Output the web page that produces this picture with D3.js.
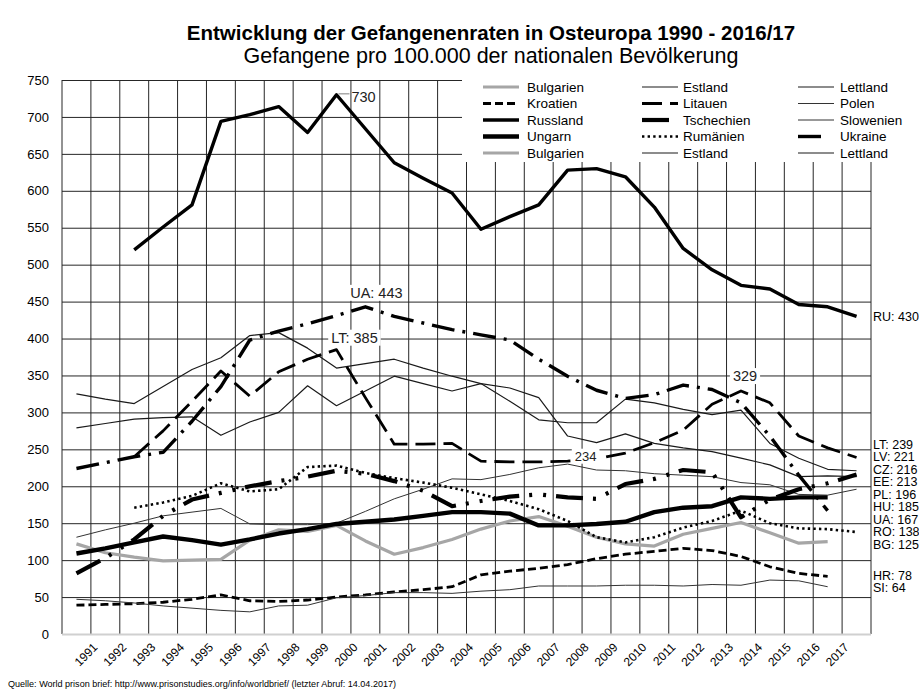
<!DOCTYPE html>
<html>
<head>
<meta charset="utf-8">
<script src="https://cdn.jsdelivr.net/npm/d3@7/dist/d3.min.js"></script>
<style>
  body { margin: 0; background: #fff; }
  text { font-family: "Liberation Sans", Arial, sans-serif; fill: #000; }
</style>
</head>
<body>
<svg width="919" height="693"></svg>
<script>
var years = [1990, 1991, 1992, 1993, 1994, 1995, 1996, 1997, 1998, 1999,
             2000, 2001, 2002, 2003, 2004, 2005, 2006, 2007, 2008, 2009,
             2010, 2011, 2012, 2013, 2014, 2015, 2016, 2017];
var yearLabels = [1991, 1992, 1993, 1994, 1995, 1996, 1997, 1998, 1999, 2000,
                  2001, 2002, 2003, 2004, 2005, 2006, 2007, 2008, 2009, 2010,
                  2011, 2012, 2013, 2014, 2015, 2016, 2017];
var yTicks = [0, 50, 100, 150, 200, 250, 300, 350, 400, 450, 500, 550, 600, 650, 700, 750];

// Gefangene pro 100.000, 1990..2017 (null = kein Wert)
var bulgarien  = [122, 110, 104, 99, 100, 101, 127, 141, 139, 147, 126, 108, 117, 128, 142, 153, 159, 146, 131, 122, 119, 135, 143, 151, 137, 123, 125, null];
var estland    = [279, 285, 291, 293, 294, 269, 287, 300, 336, 309, 329, 349, 339, 329, 339, 333, 320, 268, 259, 271, 258, 252, 247, 238, 229, 213, 214, 213];
var lettland   = [325, 318, 312, 335, 358, 374, 404, 408, 387, 360, 366, 372, 360, 349, 339, 315, 290, 286, 286, 318, 313, 304, 297, 303, 258, 238, 223, 221];
var kroatien   = [39, 40, 41, 43, 47, 53, 45, 44, 46, 50, 53, 57, 60, 64, 80, 85, 89, 94, 102, 108, 112, 116, 113, 105, 91, 82, 78, null];
var litauen    = [null, null, 240, 275, 315, 356, 322, 355, 372, 385, 320, 257, 257, 258, 234, 233, 233, 234, 237, 245, 259, 276, 311, 329, 313, 268, 252, 239];
var polen      = [131, 141, 150, 160, 165, 170, 149, 148, 148, 150, 166, 183, 196, 210, 209, 216, 225, 230, 222, 221, 217, 215, 213, 205, 202, 189, 188, 196];
var russland   = [null, null, 520, 551, 581, 694, 703, 714, 679, 730, 684, 638, 617, 597, 548, 565, 581, 628, 630, 619, 578, 522, 493, 472, 467, 446, 443, 430];
var tschechien = [82, 103, 128, 160, 182, 191, 200, 207, 213, 221, 217, 207, 194, 173, 180, 186, 189, 185, 183, 203, 210, 222, 219, 158, 182, 196, 204, 216];
var slowenien  = [47, 45, 42, 38, 35, 32, 30, 38, 39, 49, 52, 56, 56, 55, 58, 60, 65, 65, 65, 66, 66, 65, 67, 66, 73, 72, 64, null];
var ungarn     = [109, 116, 124, 132, 127, 121, 128, 136, 142, 149, 152, 155, 160, 165, 165, 163, 147, 147, 149, 152, 165, 171, 173, 185, 183, 185, 185, null];
var rumaenien  = [null, null, 171, 178, 187, 204, 193, 196, 226, 228, 218, 211, 205, 198, 189, 180, 169, 153, 131, 124, 131, 144, 153, 167, 150, 143, 142, 138];
var ukraine    = [224, 232, 240, 246, 288, 335, 398, 410, 420, 431, 443, 430, 421, 412, 405, 398, 372, 349, 330, 319, 324, 337, 331, 313, 268, 215, 167, null];

var series = [
  {name: "Bulgarien",  code: "BG", values: bulgarien,  color: "#a6a6a6", width: 3.2, dash: null},
  {name: "Estland",    code: "EE", values: estland,    color: "#1a1a1a", width: 1.2, dash: null},
  {name: "Lettland",   code: "LV", values: lettland,   color: "#1a1a1a", width: 1.2, dash: null},
  {name: "Kroatien",   code: "HR", values: kroatien,   color: "#000",    width: 2.8, dash: "8,4"},
  {name: "Litauen",    code: "LT", values: litauen,    color: "#000",    width: 2.8, dash: "20,8"},
  {name: "Polen",      code: "PL", values: polen,      color: "#333",    width: 1,   dash: null},
  {name: "Russland",   code: "RU", values: russland,   color: "#000",    width: 3.4, dash: null},
  {name: "Tschechien", code: "CZ", values: tschechien, color: "#000",    width: 4.2, dash: "27,10,3,11,3,10"},
  {name: "Slowenien",  code: "SI", values: slowenien,  color: "#333",    width: 1,   dash: null},
  {name: "Ungarn",     code: "HU", values: ungarn,     color: "#000",    width: 4.4, dash: null},
  {name: "Rumänien",   code: "RO", values: rumaenien,  color: "#000",    width: 2.6, dash: "2.4,3.2"},
  {name: "Ukraine",    code: "UA", values: ukraine,    color: "#000",    width: 3.4, dash: "23,8,3,8"}
];
var byCode = {};
series.forEach(function(s) { byCode[s.code] = s; });

// Excel wiederholt die ersten drei Legendeneinträge
var legendNames = ["Bulgarien", "Estland", "Lettland", "Kroatien", "Litauen", "Polen",
                   "Russland", "Tschechien", "Slowenien", "Ungarn", "Rumänien", "Ukraine",
                   "Bulgarien", "Estland", "Lettland"];

var svg = d3.select("svg"),
    plotL = 62, plotR = 871, plotT = 80, plotB = 634;

var x = d3.scaleBand().domain(years).range([plotL, plotR]);
var y = d3.scaleLinear().domain([0, 750]).range([plotB, plotT]);
var bw = x.bandwidth();
function cx(yr) { return x(yr) + bw / 2; }

svg.append("rect").attr("width", 919).attr("height", 693).attr("fill", "#fff");

// horizontal grid
svg.append("g")
    .attr("transform", "translate(" + plotL + ",0)")
    .call(d3.axisLeft(y).tickValues(yTicks).tickSize(-(plotR - plotL)).tickPadding(13))
    .call(function(g) {
      g.select(".domain").remove();
      g.selectAll(".tick line").attr("stroke", "#262626").attr("stroke-width", 1);
      g.selectAll(".tick text").style("font-size", "13px")
          .style("font-family", "'Liberation Sans', Arial, sans-serif");
    });

// vertical grid at category boundaries
svg.append("g").selectAll("line")
  .data(years.concat(["end"]))
  .join("line")
    .attr("x1", function(d) { return d === "end" ? plotR : x(d); })
    .attr("x2", function(d) { return d === "end" ? plotR : x(d); })
    .attr("y1", plotT).attr("y2", plotB)
    .attr("stroke", "#262626").attr("stroke-width", 1);

// x axis baseline
svg.append("line")
    .attr("x1", plotL).attr("x2", plotR).attr("y1", plotB + 0.5).attr("y2", plotB + 0.5)
    .attr("stroke", "#d0d0d0").attr("stroke-width", 2);

// year labels
svg.append("g").selectAll("text")
  .data(yearLabels)
  .join("text")
    .attr("transform", function(d) { return "translate(" + (cx(d) - 7) + ",648) rotate(-45)"; })
    .attr("text-anchor", "end")
    .style("font-size", "12px")
    .text(function(d) { return d; });

// legend (white box over the grid)
var legend = svg.append("g");
legend.append("rect")
    .attr("x", 462).attr("y", 76).attr("width", 410).attr("height", 86)
    .attr("fill", "#fff");
var colX = [483, 642, 798], textX = [527, 683, 840];
legendNames.forEach(function(n, i) {
  var s = series.filter(function(d) { return d.name === n; })[0],
      col = i % 3, row = Math.floor(i / 3),
      ly = 87 + row * 16.5;
  legend.append("line")
      .attr("x1", colX[col]).attr("x2", colX[col] + (s.width >= 3.4 && s.dash ? 28 : 36))
      .attr("y1", ly).attr("y2", ly)
      .attr("stroke", s.color).attr("stroke-width", s.width)
      .attr("stroke-dasharray", s.dash);
  legend.append("text")
      .attr("x", textX[col]).attr("y", ly).attr("dy", "0.35em")
      .style("font-size", "13.5px")
      .text(n);
});

// series lines
var line = d3.line()
    .defined(function(d) { return d != null; })
    .x(function(d, i) { return cx(years[i]); })
    .y(function(d) { return y(d); });

svg.append("g").selectAll("path")
  .data(series)
  .join("path")
    .attr("fill", "none")
    .attr("stroke", function(d) { return d.color; })
    .attr("stroke-width", function(d) { return d.width; })
    .attr("stroke-dasharray", function(d) { return d.dash; })
    .attr("stroke-linejoin", "round")
    .attr("d", function(d) { return line(d.values); });

// end labels, spread apart where they collide
var ends = series.map(function(s) {
  var v = s.values.filter(function(d) { return d != null; }).pop();
  return {text: s.code + ": " + v, y: y(v)};
}).sort(function(a, b) { return a.y - b.y; });

var gap = 12.5, groups = ends.map(function(e) { return [e]; }), merged = true;
function place(g) {
  var mean = d3.mean(g, function(e) { return e.y; });
  return mean - (g.length - 1) * gap / 2;
}
while (merged) {
  merged = false;
  for (var i = 0; i < groups.length - 1; i++) {
    var a = groups[i], b = groups[i + 1];
    if (place(a) + a.length * gap > place(b)) {
      groups.splice(i, 2, a.concat(b));
      merged = true;
      break;
    }
  }
}
groups.forEach(function(g) {
  var y0 = place(g);
  g.forEach(function(e, k) { e.ly = y0 + k * gap; });
});

svg.append("g").selectAll("text")
  .data(ends)
  .join("text")
    .attr("x", 873).attr("y", function(d) { return d.ly; }).attr("dy", "0.35em")
    .style("font-size", "12.5px")
    .text(function(d) { return d.text; });

// data callouts
var callouts = [
  {code: "UA", year: 2000, prefix: "UA: ", dx: 11, dy: -14, size: 14.5},
  {code: "LT", year: 1999, prefix: "LT: ", dx: 18, dy: -12, size: 14.5},
  {code: "LT", year: 2013, prefix: "",     dx: 4,  dy: -15, size: 14.5},
  {code: "LT", year: 2007, prefix: "",     dx: 18, dy: -5,  size: 13}
];
callouts.forEach(function(c) {
  var v = byCode[c.code].values[years.indexOf(c.year)],
      g = svg.append("g")
        .attr("transform", "translate(" + (cx(c.year) + c.dx) + "," + (y(v) + c.dy) + ")");
  var t = g.append("text").attr("text-anchor", "middle").attr("dy", "0.35em")
      .style("font-size", c.size + "px").style("fill", "#222")
      .text(c.prefix + v);
  var bb = t.node().getBBox();
  g.insert("rect", "text")
      .attr("x", bb.x - 3).attr("y", bb.y).attr("width", bb.width + 6).attr("height", bb.height)
      .attr("fill", "#fff");
});

// Russia peak
var ruPeak = russland[years.indexOf(1999)];
svg.append("line")
    .attr("x1", cx(1999) + 2).attr("x2", cx(1999) + 13)
    .attr("y1", y(ruPeak) - 1).attr("y2", y(ruPeak) - 1)
    .attr("stroke", "#aaa").attr("stroke-width", 1.5);
svg.append("text")
    .attr("x", cx(1999) + 15).attr("y", y(ruPeak) + 2).attr("dy", "0.35em")
    .style("font-size", "14.5px").style("fill", "#222")
    .text(ruPeak);

// titles
svg.append("text").attr("x", 491).attr("y", 33).attr("dy", "0.35em")
    .attr("text-anchor", "middle")
    .style("font-size", "20.5px").style("font-weight", "bold")
    .text("Entwicklung der Gefangenenraten in Osteuropa 1990 - 2016/17");
svg.append("text").attr("x", 491).attr("y", 55).attr("dy", "0.35em")
    .attr("text-anchor", "middle")
    .style("font-size", "21.5px")
    .text("Gefangene pro 100.000 der nationalen Bevölkerung");

svg.append("text").attr("x", 8).attr("y", 687)
    .attr("textLength", 388).attr("lengthAdjust", "spacingAndGlyphs")
    .style("font-size", "9.5px")
    .style("font-family", "'Liberation Sans Narrow', 'Liberation Sans', Arial, sans-serif")
    .text("Quelle:  World prison brief: http://www.prisonstudies.org/info/worldbrief/  (letzter Abruf: 14.04.2017)");
</script>
</body>
</html>
